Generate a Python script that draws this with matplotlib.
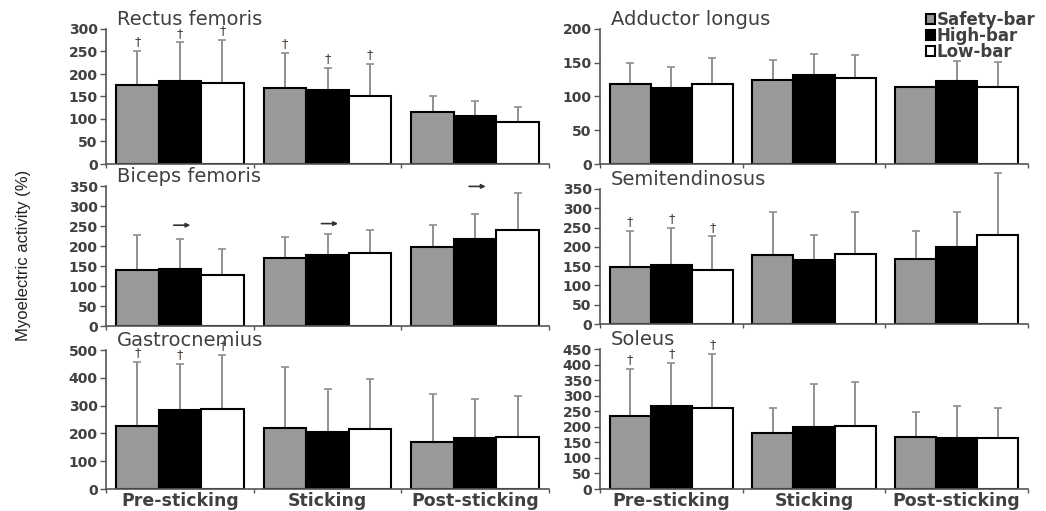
import matplotlib.pyplot as plt
from matplotlib import font_manager
from matplotlib.transforms import blended_transform_factory
import numpy as np

phases = ['Pre-sticking', 'Sticking', 'Post-sticking']
conditions = ['Safety-bar', 'High-bar', 'Low-bar']
bar_colors = ['#999999', '#000000', '#ffffff']

# mean values per muscle: rows = condition (safety, high, low), cols = phase
rectus_mean = [[176, 168, 115], [185, 165, 107], [180, 150, 94]]
rectus_top = [[251, 246, 150], [270, 213, 141], [275, 222, 127]]

adductor_mean = [[118, 124, 114], [112, 132, 123], [118, 127, 114]]
adductor_top = [[150, 154, np.nan], [144, 163, 152], [157, 162, 151]]

biceps_mean = [[141, 171, 198], [143, 178, 218], [128, 183, 239]]
biceps_top = [[227, 222, 252], [218, 229, 279], [192, 239, 333]]
biceps_arrow = [252, 256, 349]  # height of arrows above high-bar

semi_mean = [[147, 180, 168], [152, 166, 199], [140, 182, 230]]
semi_top = [[242, 290, 242], [250, 231, 291], [227, 291, 391]]

gastro_mean = [[227, 218, 170], [284, 206, 182], [289, 215, 188]]
gastro_top = [[456, 438, 343], [451, 360, 324], [482, 395, 333]]

soleus_mean = [[236, 179, 168], [267, 200, 164], [261, 203, 164]]
soleus_top = [[385, 259, 249], [405, 338, 266], [434, 343, 259]]

# which bars get a dagger (condition, phase)
rectus_dag = [(0, 0), (1, 0), (2, 0), (0, 1), (1, 1), (2, 1)]
semi_dag = [(0, 0), (1, 0), (2, 0)]
gastro_dag = [(0, 0), (1, 0), (2, 0)]
soleus_dag = [(0, 0), (1, 0), (2, 0)]

panels = [
    ('Rectus femoris', rectus_mean, rectus_top, rectus_dag, 300, 50),
    ('Adductor longus', adductor_mean, adductor_top, [], 200, 50),
    ('Biceps femoris', biceps_mean, biceps_top, [], 350, 50),
    ('Semitendinosus', semi_mean, semi_top, semi_dag, 350, 50),
    ('Gastrocnemius', gastro_mean, gastro_top, gastro_dag, 500, 100),
    ('Soleus', soleus_mean, soleus_top, soleus_dag, 450, 50),
]

txt = '#404040'
W, H = 1046, 511
fig = plt.figure(figsize=(W / 100, H / 100), dpi=100)

# axes boxes in pixels: (left, right) for columns, (top, bottom) for rows
cols = [(106, 549), (600, 1028)]
rows = [[(29, 164), (29, 164)], [(186, 326), (189, 324)], [(350, 489), (349, 489)]]

bw = 0.288
axes = []
for i, (name, mean, top, dag, ymax, step) in enumerate(panels):
    r, c = divmod(i, 2)
    x0, x1 = cols[c]
    t, b = rows[r][c]
    ax = fig.add_axes([x0 / W, 1 - b / H, (x1 - x0) / W, (b - t) / H])
    axes.append(ax)
    centers = np.arange(3) + 0.5
    for k in range(3):
        xs = centers + (k - 1) * bw
        m = np.array(mean[k], dtype=float)
        tp = np.array(top[k], dtype=float)
        ax.bar(xs, m, bw, color=bar_colors[k], edgecolor='black', linewidth=1.5,
               zorder=2, label=conditions[k])
        err = np.nan_to_num(tp - m)
        ax.errorbar(xs, m, yerr=[np.zeros(3), err], fmt='none', ecolor='#8f8f8f',
                    elinewidth=1.4, capsize=3, capthick=1.2, zorder=1, clip_on=False)
    for k, p in dag:
        ax.annotate('\u2020', xy=(p + 0.5 + (k - 1) * bw, top[k][p]),
                    xytext=(0, 2), textcoords='offset points',
                    ha='center', va='bottom', fontsize=9, color='#4a4038',
                    annotation_clip=False)
    ax.set_xlim(0, 3)
    ax.set_ylim(0, ymax)
    ax.set_yticks(np.arange(0, ymax + 1, step))
    ax.set_xticks([0, 1, 2, 3])
    ax.set_xticklabels([])
    ax.tick_params(axis='x', length=3, width=1, color='#555555')
    ax.tick_params(axis='y', length=4, width=1, color='#555555', pad=2,
                   labelsize=10, labelcolor=txt)
    for lab in ax.get_yticklabels():
        lab.set_fontweight('bold')
    for s in ['top', 'right']:
        ax.spines[s].set_visible(False)
    for s in ['left', 'bottom']:
        ax.spines[s].set_color('#555555')
        ax.spines[s].set_linewidth(1.2)
    ax.text(0.025, 1.0, name, transform=ax.transAxes, ha='left', va='bottom',
            fontsize=14, color=txt)
    if r == 2:
        tr = blended_transform_factory(ax.transData, fig.transFigure)
        for p, lab in enumerate(phases):
            ax.text(p + 0.5, 1 - 501 / H, lab, transform=tr,
                    ha='center', va='center', fontsize=12.5, fontweight='bold', color=txt)

# arrows in biceps femoris panel
for p, h in enumerate(biceps_arrow):
    axes[2].annotate('', xy=(p + 0.5 + 0.09, h), xytext=(p + 0.5 - 0.06, h),
                     arrowprops=dict(arrowstyle='-|>', color='#333333', lw=1.2,
                                     mutation_scale=6), annotation_clip=False)

h, l = axes[1].get_legend_handles_labels()
fig.legend(h, l, loc='upper right', bbox_to_anchor=(1042 / W, 1 - 4 / H),
           frameon=False, prop={'size': 12, 'weight': 'bold'}, handlelength=0.55,
           handleheight=0.55, handletextpad=0.1, labelspacing=-0.12,
           borderaxespad=0, labelcolor=txt)

# condensed y label: Arial-Narrow-like face if present
try:
    font_manager.findfont(font_manager.FontProperties(family='Liberation Sans Narrow'),
                          fallback_to_default=False)
    yl_family, yl_size = 'Liberation Sans Narrow', 14
except ValueError:
    yl_family, yl_size = 'Liberation Sans', 12
fig.text(24 / W, 1 - 255 / H, 'Myoelectric activity (%)', rotation=90,
         ha='center', va='center', fontsize=yl_size, family=yl_family, color='#222222')

fig.savefig('out.png', dpi=100)
